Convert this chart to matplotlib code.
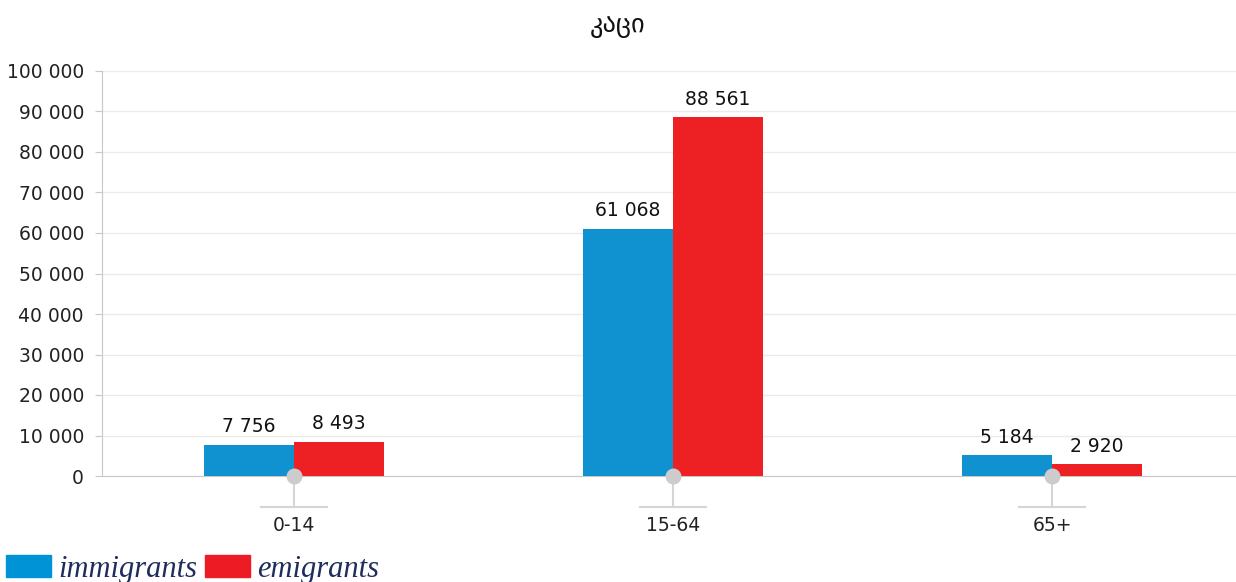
import numpy as np
import matplotlib
matplotlib.use('Agg')
import matplotlib.pyplot as plt
from matplotlib.patches import Patch
from matplotlib.ticker import FuncFormatter
import matplotlib.transforms as mtransforms

### chart data
groups = ['0-14', '15-64', '65+']
immigrants = [7756, 61068, 5184]
emigrants = [8493, 88561, 2920]
y_ticks = np.arange(0, 100001, 10000)
title_text = 'კაცი'

blue = '#1192d0'
red = '#ed2024'
grey = '#c8c8c8'

plt.rcParams['font.family'] = ['DejaVu Sans']


def spaced(v, pos=None):
    # thousands separated by a space, like "88 561"
    return '{:,}'.format(int(v)).replace(',', ' ')


fig = plt.figure(figsize=(12.36, 5.82), dpi=100)
ax = fig.add_axes([102/1236, 106/582, 1134/1236, 405/582])

x = np.arange(len(groups))
w = 0.2375
b1 = ax.bar(x - w/2, immigrants, w, color=blue, zorder=3)
b2 = ax.bar(x + w/2, emigrants, w, color=red, zorder=3)

for bars, vals in [(b1, immigrants), (b2, emigrants)]:
    for rect, v in zip(bars, vals):
        ax.annotate(spaced(v), (rect.get_x() + rect.get_width()/2, v),
                    xytext=(0, 6), textcoords='offset points',
                    ha='center', va='bottom', fontsize=13.5, color='#111111')

ax.set_xlim(-0.507, 2.485)
ax.set_ylim(0, 100000)
ax.set_yticks(y_ticks)
ax.yaxis.set_major_formatter(FuncFormatter(spaced))
ax.grid(axis='y', color='#ebebeb', lw=1, zorder=0)
ax.set_axisbelow(True)

for s in ['top', 'right']:
    ax.spines[s].set_visible(False)
ax.spines['left'].set_color(grey)
ax.spines['bottom'].set_color(grey)
ax.tick_params(axis='y', length=5, color=grey, labelsize=13.5, labelcolor='#222222', pad=8)

ax.set_xticks(x)
ax.set_xticklabels(groups)
ax.tick_params(axis='x', length=0, labelsize=13.5, labelcolor='#222222', pad=29)

# category markers: dot on axis, stem and a short bar underneath
trans = mtransforms.blended_transform_factory(ax.transData, ax.transAxes)
for xi in x:
    ax.plot([xi, xi], [0, -0.077], color='#d5d5d5', lw=1.5, transform=trans, clip_on=False, zorder=1)
    ax.plot([xi - 0.087, xi + 0.087], [-0.077, -0.077], color='#d5d5d5', lw=1.5,
            transform=trans, clip_on=False, zorder=1)
    ax.scatter([xi], [0], s=110, color='#cccccc', transform=trans, clip_on=False, zorder=5)

fig.text(0.5, 1 - 25/582, title_text, ha='center', va='center', fontsize=19, color='#111111')

handles = [Patch(color='#0093d5', label='immigrants'), Patch(color='#ed1c24', label='emigrants')]
fig.legend(handles=handles, loc='lower left', bbox_to_anchor=(0.0, -0.014), ncol=2, frameon=False,
           prop={'family': 'Liberation Serif', 'style': 'italic', 'size': 22},
           labelcolor='#1f2d5c', handlelength=1.47, handleheight=0.72, handletextpad=0.23,
           columnspacing=0.26, borderaxespad=0.0, borderpad=0.2)

fig.savefig('out.png', dpi=100)
